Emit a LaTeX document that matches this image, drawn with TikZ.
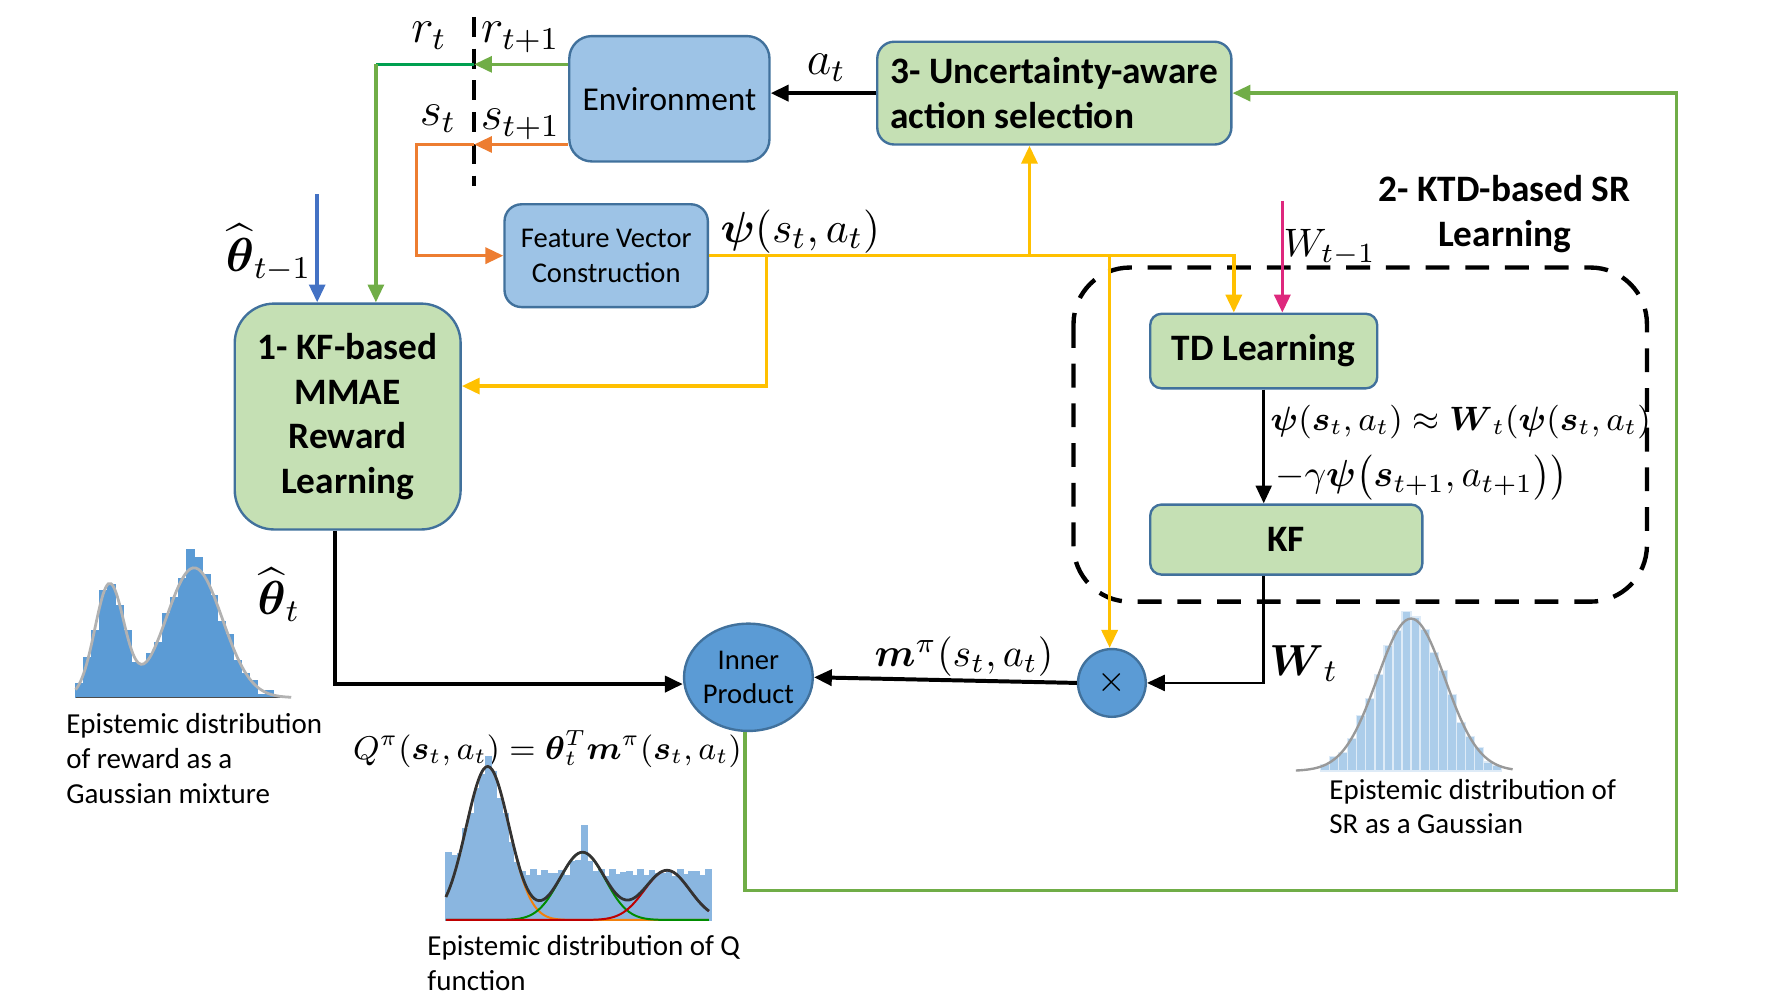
\documentclass[tikz,border=0pt]{standalone}
\usepackage{amsmath}
\usepackage[no-math]{fontspec}
\setmainfont{Carlito}
\usetikzlibrary{arrows.meta}
\usetikzlibrary{shapes.geometric}
\definecolor{boxblue}{RGB}{157,195,230}
\definecolor{boxgreen}{RGB}{197,224,180}
\definecolor{boxline}{RGB}{65,113,156}
\definecolor{ipblue}{RGB}{91,155,213}
\definecolor{rgreen}{RGB}{112,173,71}
\definecolor{rdark}{RGB}{0,160,80}
\definecolor{sorange}{RGB}{237,125,49}
\definecolor{psiyellow}{RGB}{255,192,0}
\definecolor{thblue}{RGB}{68,114,196}
\definecolor{wpink}{RGB}{222,40,125}
\definecolor{histblue}{RGB}{91,155,213}
\definecolor{qblue}{RGB}{138,182,224}
\definecolor{srblue}{RGB}{172,205,234}
\newcommand\fsz[2]{\fontsize{#1}{#2}\selectfont}

\begin{document}
\begin{tikzpicture}[
    x=0.01cm, y=-0.01cm,
    >={Triangle[length=4.5pt,width=4pt]},
    declare function={
        g(\u,\m,\s)=exp(-0.5*((\u-\m)/\s)*((\u-\m)/\s));
        rwd(\u)=100*g(\u,97,13)+115*g(\u,172,25);
        qa(\u)=136*g(\u,432,19);
        qb(\u)=60*g(\u,516,20);
        qc(\u)=44*g(\u,591,20);
        qbar(\u)=max(qa(\u)+qb(\u)+qc(\u)-6,42)+18*g(\u,395,10)+16*g(\u,433,3)+30*g(\u,517,2);
        srd(\u)=135*g(\u,1250,30);
    },
    bluebox/.style={draw=boxline,line width=0.6pt,fill=boxblue,rounded corners=0.2cm,align=center},
    greenbox/.style={draw=boxline,line width=0.6pt,fill=boxgreen,rounded corners=0.15cm,font=\fsz{9.4}{11.3}\bfseries},
    ktdbox/.style={draw=black,line width=1.1pt,dash pattern=on 6pt off 4pt,rounded corners=0.5cm},
    ball/.style={draw=boxline,line width=0.6pt,fill=ipblue,ellipse,inner sep=0pt},
    blk/.style={draw=black,line width=1pt,->},
    thn/.style={draw=black,line width=0.7pt,->},
    ylw/.style={draw=psiyellow,line width=0.9pt},
    org/.style={draw=sorange,line width=0.9pt},
    grn/.style={draw=rgreen,line width=0.9pt},
    lbl/.style={inner sep=1pt},
    caption/.style={align=left,anchor=west,inner sep=0pt,font=\fsz{7.3}{8.8}}
]
\useasboundingbox (0,0) rectangle (1568,882);

% blocks
\node [bluebox,minimum width=1.72cm,minimum height=1.11cm,font=\fsz{8.4}{10}] (env) at (593,87.5) {Environment};
\node [greenbox,minimum width=3.04cm,minimum height=0.91cm,align=left] (act) at (934,82.5) {3- Uncertainty-aware\\action selection};
\node [bluebox,minimum width=1.8cm,minimum height=0.91cm,rounded corners=0.15cm,font=\fsz{7.2}{8.8}] (feat) at (537,226.5) {Feature Vector\\Construction};
\node [greenbox,minimum width=2cm,minimum height=2cm,rounded corners=0.35cm,align=center] (kfr) at (308,369) {1- KF-based\\MMAE\\Reward\\Learning};
\draw [ktdbox] (951,237) rectangle (1459,533);
\node [greenbox,minimum width=2.01cm,minimum height=0.66cm,rounded corners=0.1cm] (td) at (1119.5,311) {TD Learning};
\node [greenbox,minimum width=2.41cm,minimum height=0.62cm,rounded corners=0.1cm] (kf) at (1139.5,478) {KF};
\node [ball,minimum width=1.06cm,minimum height=0.95cm,align=center,font=\fsz{7.2}{8.6}] (ip) at (663,600) {Inner\\Product};
\node [ball,minimum size=0.6cm,font=\fsz{9}{10}] (times) at (985,605) {$\times$};

% time cut
\coordinate (cutr) at (420,57);
\coordinate (cuts) at (420,128);
\draw [black,line width=0.9pt,dash pattern=on 5pt off 3pt] (420,15) -- (420,165);

% reward and state
\coordinate (rcorner) at (333,57);
\coordinate (scorner) at (369,128);
\draw [grn,->] (env.west |- cutr) -- (cutr);
\draw [draw=rdark,line width=0.9pt] (cutr) -- (rcorner);
\draw [grn,->] (rcorner) -- (rcorner |- kfr.north);
\draw [org,->] (env.west |- cuts) -- (cuts);
\draw [org,->] (cuts) -- (scorner) |- (feat.west);
\coordinate (thin) at (281,172);
\draw [draw=thblue,line width=0.9pt,->] (thin) -- (thin |- kfr.north);
\coordinate (wtop) at (1136,178);
\draw [draw=wpink,line width=0.9pt,->] (wtop) -- (wtop |- td.north);

% features
\coordinate (yb1) at (679,226.5);
\coordinate (yb2) at (912,226.5);
\coordinate (yb3) at (983,226.5);
\coordinate (yb4) at (1093,226.5);
\coordinate (yb1d) at (679,342);
\draw [ylw,->] (feat.east) -- (yb4) -- (yb4 |- td.north);
\draw [ylw,->] (yb1) -- (yb1d) -- (yb1d -| kfr.east);
\draw [ylw,->] (yb2) -- (yb2 |- act.south);
\draw [ylw,->] (yb3) -- (yb3 |- times.north);

% main flow
\draw [blk] (act.west) -- (act.west -| env.east);
\draw [thn] (td.south) -- (td.south |- kf.north);
\draw [thn] (kf.south -| td.south) |- (times.east);
\draw [blk] (times.west) -- (ip.east);
\draw [blk] ([xshift=-0.11cm]kfr.south) |- ([yshift=-0.06cm]ip.west);
\coordinate (gl) at (1485,789);
\draw [grn,->] ([xshift=-0.03cm]ip.south) |- (gl) |- (act.east);

% labels
\node [lbl] (lrt) at (380,32) {\fsz{12}{14}$r_t$};
\node [lbl] (lrt1) at (461,33) {\fsz{12}{14}$r_{t+1}$};
\node [lbl] (lst) at (388,105) {\fsz{12}{14}$s_t$};
\node [lbl] (lst1) at (461,110) {\fsz{12}{14}$s_{t+1}$};
\node [lbl] (lat) at (732,60) {\fsz{12}{14}$a_t$};
\node [lbl] (lth1) at (238,224) {\fsz{12}{14}$\widehat{\boldsymbol{\theta}}_{t-1}$};
\node [lbl] (lpsi) at (709,205) {\fsz{10.95}{13}$\boldsymbol{\psi}(s_t,a_t)$};
\node [lbl] (lw1) at (1178,219) {\fsz{10}{12}$W_{t-1}$};
\node [align=center,inner sep=0pt,font=\fsz{9.4}{11.3}\bfseries] (lktd) at (1333,190) {2- KTD-based SR\\Learning};
\node [anchor=west,inner sep=0pt] (ltd1) at (1125,374) {\fsz{9}{11}\scalebox{0.945}{$\boldsymbol{\psi}(\boldsymbol{s}_t,a_t)\approx\boldsymbol{W}_t(\boldsymbol{\psi}(\boldsymbol{s}_t,a_t)$}};
\node [anchor=west,inner sep=0pt] (ltd2) at (1129,423) {\fsz{10}{12}\scalebox{0.95}{$-\gamma\boldsymbol{\psi}\bigl(\boldsymbol{s}_{t+1},a_{t+1}\bigr)\bigr)$}};
\node [lbl] (lwt) at (1155,588) {\fsz{10.95}{13}$\boldsymbol{W}_t$};
\node [lbl] (lm) at (854,582) {\fsz{10}{12}$\boldsymbol{m}^{\pi}(s_t,a_t)$};
\node [lbl] (lth) at (247,527) {\fsz{12}{14}$\widehat{\boldsymbol{\theta}}_t$};
\node [inner sep=0pt] (lq) at (485,664) {\fsz{9}{11}\scalebox{0.92}{$Q^{\pi}(\boldsymbol{s}_t,a_t)=\boldsymbol{\theta}_t^T\boldsymbol{m}^{\pi}(\boldsymbol{s}_t,a_t)$}};

% reward histogram
\foreach \i in {0,...,26}
    \filldraw [fill=histblue,draw=histblue,line width=0.2pt]
        ({67+7*\i},618) rectangle ++(7,{-max(rwd(70.5+7*\i)+18*g(70.5+7*\i,172,5)+4*sin(137*\i),1)});
\draw [black!70,line width=0.4pt] (67,618) -- (258,618);
\draw [black!30,line width=0.7pt] plot [domain=67:258,samples=80,smooth] (\x,{618-rwd(\x)});
\node [caption] (capr) at (58,672) {Epistemic distribution\\of reward as a\\Gaussian mixture};

% Q histogram
\foreach \i in {0,...,46}
    \filldraw [fill=qblue,draw=qblue,line width=0.2pt]
        ({395+5*\i},815) rectangle ++(5,{-qbar(397.5+5*\i)-3*sin(151*\i)});
\draw [black!50,line width=0.4pt] (395,815) -- (628,815);
\draw [orange!80!brown,line width=0.5pt] plot [domain=395:628,samples=90,smooth] (\x,{815-qa(\x)});
\draw [green!55!black,line width=0.5pt] plot [domain=395:628,samples=90,smooth] (\x,{815-qb(\x)});
\draw [red!75!black,line width=0.5pt] plot [domain=395:628,samples=90,smooth] (\x,{815-qc(\x)});
\draw [black!80,line width=0.7pt] plot [domain=395:628,samples=120,smooth] (\x,{815-qa(\x)-qb(\x)-qc(\x)});
\node [caption] (capq) at (378,853) {Epistemic distribution of Q\\function};

% SR histogram
\foreach \i in {0,...,19}
    \filldraw [fill=srblue,draw=white!60!srblue,line width=0.3pt]
        ({1170+8*\i},683) rectangle ++(8,{-max(srd(1174+8*\i)+10*g(1174+8*\i,1246,3)+3*sin(113*\i),2)});
\draw [black!40,line width=0.6pt] plot [domain=1148:1340,samples=80,smooth] (\x,{683-srd(\x)});
\node [caption] (capsr) at (1177,714.5) {Epistemic distribution of\\SR as a Gaussian};

\end{tikzpicture}
\end{document}
